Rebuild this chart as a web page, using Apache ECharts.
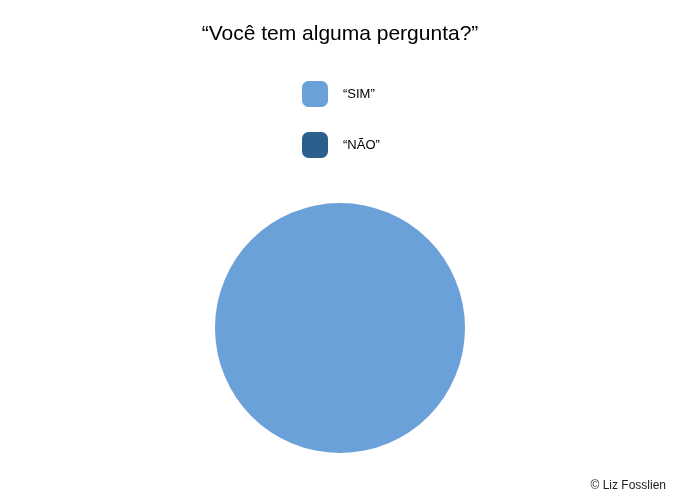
<!DOCTYPE html>
<html>
<head>
<meta charset="utf-8">
<script src="https://cdn.jsdelivr.net/npm/echarts@6/dist/echarts.min.js"></script>
<style>html,body{margin:0;padding:0;background:#fff}#c{width:680px;height:500px}</style>
</head>
<body>
<div id="c"></div>
<script>
const categories = ['“SIM”', '“NÃO”'];
const values = [100, 0];
const colors = ['#6ba1d9', '#2d5f8e'];

const chart = echarts.init(document.getElementById('c'), null, {renderer: 'canvas'});
chart.setOption({
  animation: false,
  backgroundColor: '#ffffff',
  color: colors,
  title: [
    {
      text: '“Você tem alguma pergunta?”',
      left: 'center',
      top: 19,
      textStyle: {fontFamily: 'Liberation Sans, Arial, sans-serif', fontSize: 21, fontWeight: 'normal', color: '#000'}
    },
    {
      text: '© Liz Fosslien',
      right: 9,
      top: 475,
      textStyle: {fontFamily: 'Liberation Sans, Arial, sans-serif', fontSize: 12, fontWeight: 'normal', color: '#222'}
    }
  ],
  legend: {
    orient: 'vertical',
    left: 302,
    top: 81,
    padding: 0,
    itemWidth: 26,
    itemHeight: 26,
    itemGap: 25,
    icon: 'roundRect',
    selectedMode: false,
    data: categories,
    textStyle: {fontFamily: 'Liberation Sans, Arial, sans-serif', fontSize: 13, color: '#000', padding: [0, 0, 0, 10]}
  },
  series: [{
    type: 'pie',
    center: [340, 328],
    radius: [0, 125],
    label: {show: false},
    labelLine: {show: false},
    emphasis: {disabled: true},
    itemStyle: {borderWidth: 0},
    data: categories.map((c, i) => ({name: c, value: values[i]}))
  }]
});
</script>
</body>
</html>
